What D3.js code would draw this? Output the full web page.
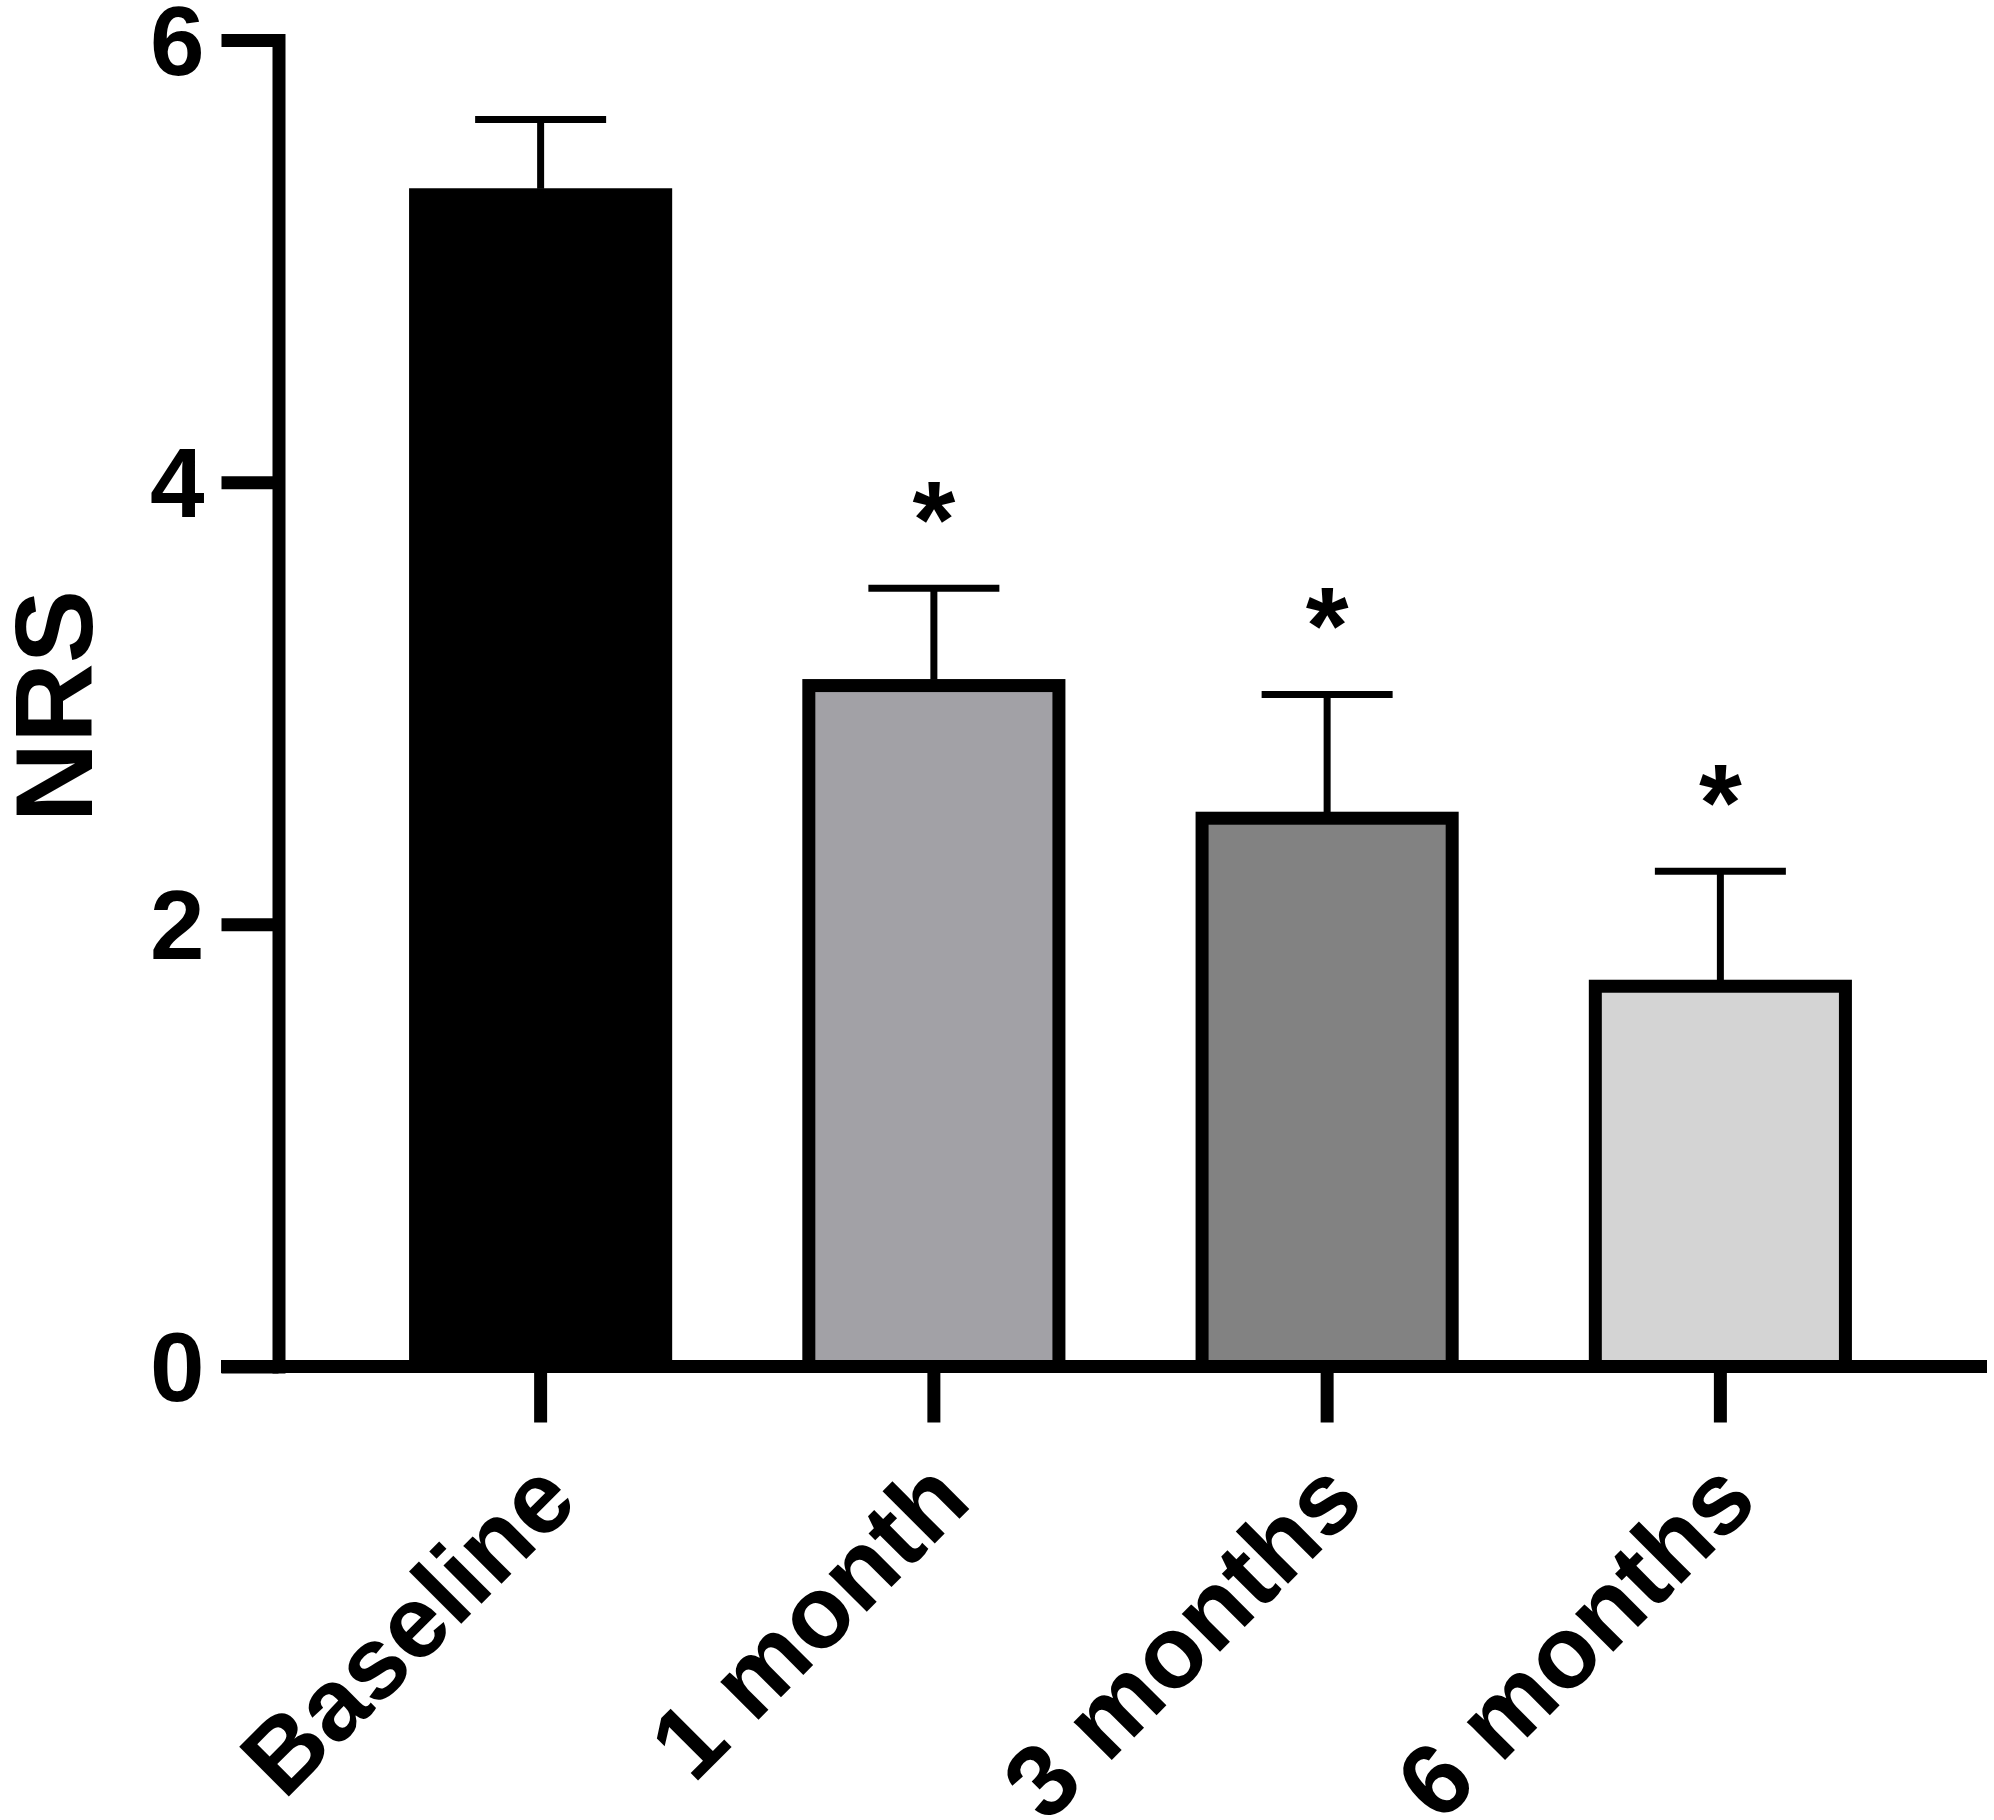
<!DOCTYPE html>
<html>
<head>
<meta charset="utf-8">
<script src="https://cdn.jsdelivr.net/npm/d3@7"></script>
<style>
  body { margin: 0; background: #fff; }
  svg { display: block; font-family: "Liberation Sans", Arial, sans-serif; font-weight: bold; }
</style>
</head>
<body>
<svg id="chart"></svg>
<script>
// data
const groups = ["Baseline", "1 month", "3 months", "6 months"];
const means = [5.3, 3.08, 2.48, 1.72];
const errs = [0.34, 0.44, 0.56, 0.52];
const signif = [false, true, true, true];
const fills = ["#000000", "#a2a1a6", "#828282", "#d4d4d4"];
const yTicks = [0, 2, 4, 6];

const width = 1994, height = 1820;
const axisX = 278.5, axisY = 1366.5;

const svg = d3.select("#chart")
  .attr("width", width)
  .attr("height", height);

const y = d3.scaleLinear()
  .domain([0, 6])
  .range([axisY, 40]);

const x = d3.scaleBand()
  .domain(groups)
  .range([344, 1917])
  .paddingInner(0.364)
  .paddingOuter(0.182);

// bars
svg.selectAll("rect.bar")
  .data(groups)
  .join("rect")
  .attr("class", "bar")
  .attr("x", d => x(d))
  .attr("y", (d, i) => y(means[i]))
  .attr("width", x.bandwidth())
  .attr("height", (d, i) => y(0) - y(means[i]))
  .attr("fill", (d, i) => fills[i])
  .attr("stroke", "#000")
  .attr("stroke-width", 13);

// error bars (upper only) + significance stars
const capW = 131;
groups.forEach(function(g, i) {
  const cx = x(g) + x.bandwidth() / 2;
  svg.append("line")
    .attr("x1", cx).attr("x2", cx)
    .attr("y1", y(means[i]) - 6).attr("y2", y(means[i] + errs[i]))
    .attr("stroke", "#000")
    .attr("stroke-width", 7);
  svg.append("line")
    .attr("x1", cx - capW / 2).attr("x2", cx + capW / 2)
    .attr("y1", y(means[i] + errs[i])).attr("y2", y(means[i] + errs[i]))
    .attr("stroke", "#000")
    .attr("stroke-width", 7);
  if (signif[i]) {
    svg.append("text")
      .attr("x", cx)
      .attr("y", y(means[i] + errs[i]) - 31)
      .attr("text-anchor", "middle")
      .attr("font-size", "110px")
      .text("*");
  }
});

// y axis
const yAxis = svg.append("g")
  .attr("transform", `translate(${axisX},0)`)
  .call(d3.axisLeft(y).tickValues(yTicks).tickFormat(d3.format("d"))
    .tickSize(57).tickSizeOuter(0).tickPadding(17));
yAxis.select(".domain")
  .attr("stroke-width", 13)
  .attr("stroke-linecap", "square");
yAxis.selectAll(".tick line").attr("stroke-width", 13);
yAxis.selectAll(".tick text")
  .attr("font-size", "98px")
  .attr("font-family", "'Liberation Sans', Arial, sans-serif")
  .attr("font-weight", "bold")
  .attr("fill", "#000")
  .attr("dy", "0.35em");

// x axis
svg.append("line")
  .attr("x1", 221).attr("x2", 1987)
  .attr("y1", axisY).attr("y2", axisY)
  .attr("stroke", "#000")
  .attr("stroke-width", 13);

const xAxis = svg.append("g")
  .attr("transform", `translate(0,${axisY})`)
  .call(d3.axisBottom(x).tickSize(56).tickSizeOuter(0));
xAxis.select(".domain").remove();
xAxis.selectAll(".tick line").attr("stroke-width", 13);
xAxis.selectAll(".tick text")
  .attr("x", null)
  .attr("y", null)
  .attr("dy", null)
  .attr("transform", "translate(40,138) rotate(-45)")
  .attr("text-anchor", "end")
  .attr("font-size", "102px")
  .attr("font-family", "'Liberation Sans', Arial, sans-serif")
  .attr("font-weight", "bold")
  .attr("fill", "#000");

// y axis title
svg.append("text")
  .attr("transform", "translate(92,706) rotate(-90)")
  .attr("text-anchor", "middle")
  .attr("font-size", "110px")
  .text("NRS");
</script>
</body>
</html>
